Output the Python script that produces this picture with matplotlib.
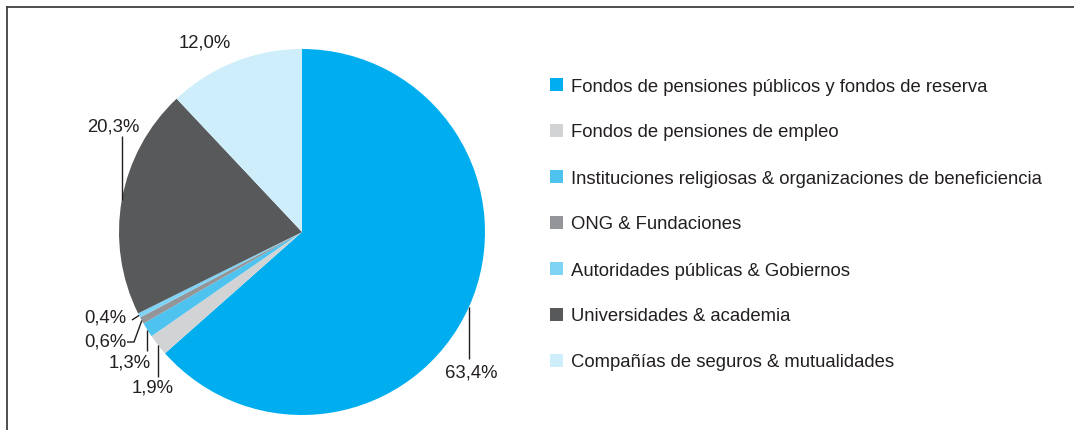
import numpy as np
import matplotlib
matplotlib.use("Agg")
import matplotlib.pyplot as plt
from matplotlib.lines import Line2D
from matplotlib.patches import Rectangle

plt.rcParams['font.family'] = ['Liberation Sans', 'DejaVu Sans']

labels = ["Fondos de pensiones públicos y fondos de reserva",
          "Fondos de pensiones de empleo",
          "Instituciones religiosas & organizaciones de beneficiencia",
          "ONG & Fundaciones",
          "Autoridades públicas & Gobiernos",
          "Universidades & academia",
          "Compañías de seguros & mutualidades"]
values = [63.4, 1.9, 1.3, 0.6, 0.4, 20.3, 12.0]
value_labels = ["63,4%", "1,9%", "1,3%", "0,6%", "0,4%", "20,3%", "12,0%"]
colors = ["#00AEEF", "#D1D3D4", "#4EC3EF", "#939598", "#7FD3F5", "#58595B", "#CDEEFA"]

W, H = 1074, 431
fig = plt.figure(figsize=(W / 100, H / 100), dpi=100)

# pie geometry (pixels)
cx, cy, R = 302, 233, 183
ax = fig.add_axes([(cx - R) / W, (H - cy - R) / H, 2 * R / W, 2 * R / H])
ax.pie(values, colors=colors, startangle=90, counterclock=False, radius=1,
       wedgeprops=dict(linewidth=0))
ax.set_xlim(-1, 1)
ax.set_ylim(-1, 1)
ax.set_aspect('equal')
ax.axis('off')

def p2d(px, py):
    return ((px - cx) / R, (cy - py) / R)

txtcol = "#231F20"
fs = 13.3
tot = sum(values)
cum = np.cumsum([0] + values)
mids = [np.deg2rad(90 - 360 * (cum[i] + values[i] / 2) / tot) for i in range(len(values))]
edge = [(np.cos(a), np.sin(a)) for a in mids]

# label layout: (label position px, ha, leader path points after edge in px)
layout = [
    dict(pos=(471, 373), ha='center', path=[('v', 360)]),
    dict(pos=(153, 388), ha='center', path=[('v', 378)]),
    dict(pos=(130, 363), ha='center', path=[('v', 352)]),
    dict(pos=(126, 342), ha='right', path=[(134, 343), (127, 343)]),
    dict(pos=(126, 318), ha='right', path=[(132, 321)]),
    dict(pos=(113, 127), ha='center', path=[('v', 137)]),
    dict(pos=(205, 43), ha='center', path=[]),
]

for i, L in enumerate(layout):
    ex, ey = edge[i]
    xs, ys = [ex], [ey]
    for p in L['path']:
        if p[0] == 'v':
            xs.append(ex)
            ys.append(p2d(0, p[1])[1])
        else:
            d = p2d(*p)
            xs.append(d[0]); ys.append(d[1])
    if len(xs) > 1:
        ax.plot(xs, ys, color=txtcol, lw=1.0, clip_on=False, solid_capstyle='butt')
    lx, ly = p2d(*L['pos'])
    ax.text(lx, ly, value_labels[i], ha=L['ha'], va='center', fontsize=fs,
            color=txtcol, clip_on=False)

# legend
for i, lab in enumerate(labels):
    ypx = 85 + 46 * i
    fig.add_artist(Rectangle((550 / W, (H - ypx - 6.5) / H), 13 / W, 13 / H,
                             transform=fig.transFigure, facecolor=colors[i],
                             edgecolor='none'))
    fig.text(571 / W, (H - ypx) / H, lab, ha='left', va='center_baseline',
             fontsize=fs, color=txtcol)

# frame (top and left)
fc = "#404040"
fig.add_artist(Line2D([7 / W, 1.0], [(H - 8) / H, (H - 8) / H], color=fc, lw=1.3,
                      transform=fig.transFigure))
fig.add_artist(Line2D([7 / W, 7 / W], [0, (H - 8) / H], color=fc, lw=1.3,
                      transform=fig.transFigure))

fig.savefig("out.png", dpi=100, facecolor='white')
